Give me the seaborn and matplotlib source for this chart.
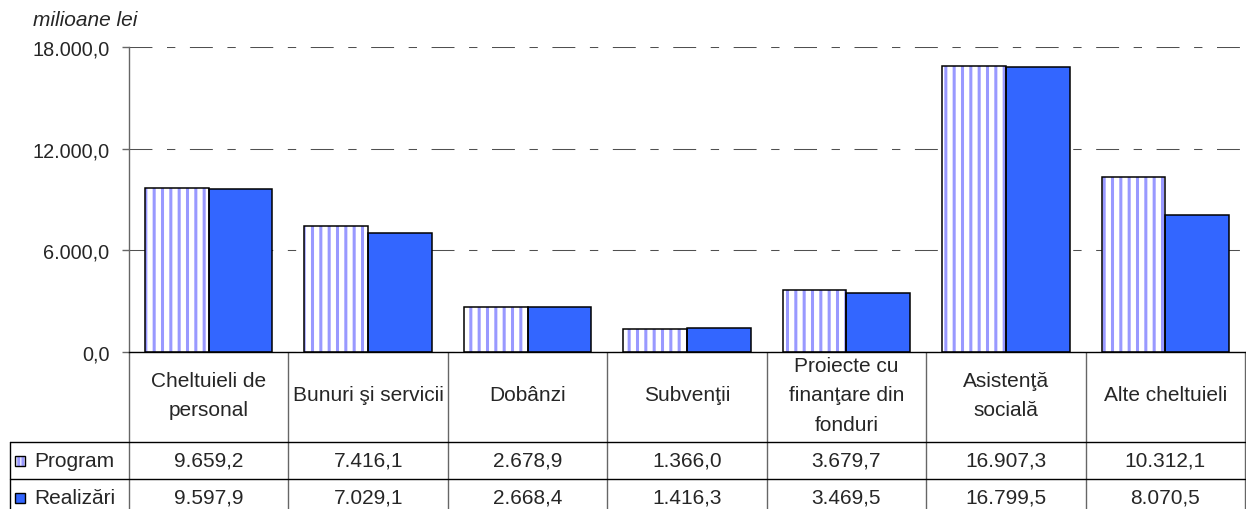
import numpy as np
import pandas as pd
import matplotlib.pyplot as plt
import matplotlib.transforms as mtransforms
from matplotlib.patches import Rectangle
import seaborn as sns

sns.set_style('white')
plt.rcParams['font.family'] = ['Liberation Sans', 'DejaVu Sans']
plt.rcParams['hatch.linewidth'] = 2.2

# data
categories = ['Cheltuieli de\npersonal', 'Bunuri şi servicii', 'Dobânzi', 'Subvenţii',
              'Proiecte cu\nfinanţare din\nfonduri', 'Asistenţă\nsocială', 'Alte cheltuieli']
series = ['Program', 'Realizări']
program = [9659.2, 7416.1, 2678.9, 1366.0, 3679.7, 16907.3, 10312.1]
realizari = [9597.9, 7029.1, 2668.4, 1416.3, 3469.5, 16799.5, 8070.5]
yticks = [0, 6000, 12000, 18000]
unit_label = 'milioane lei'

BLUE = '#3366FF'
LAVENDER = '#9999FF'
FS_TICK = 14.3
FS_TAB = 15


def fmt(v):
    """Romanian number format: 16.907,3"""
    s = f'{v:,.1f}'
    return s.replace(',', 'X').replace('.', ',').replace('X', '.')


df = pd.DataFrame({
    'cat': categories * 2,
    'serie': [series[0]] * len(categories) + [series[1]] * len(categories),
    'value': program + realizari,
})

W, H = 1246, 510
fig = plt.figure(figsize=(W / 100, H / 100), dpi=100)

# layout in pixels
ax_left, ax_right, ax_top, ax_bottom = 129, 1245, 48, 353
row_cat, row_prog, row_real = 443, 480, 517
leg_left = 10

ax = fig.add_axes([ax_left / W, 1 - ax_bottom / H, (ax_right - ax_left) / W, (ax_bottom - ax_top) / H])
sns.barplot(data=df, x='cat', y='value', hue='serie', palette=['white', BLUE],
            edgecolor='black', linewidth=1.1, width=0.8, saturation=1,
            legend=False, ax=ax)

# striped "Program" bars: hatch in lavender, black outline drawn on top
for p in ax.containers[0]:
    p.set_edgecolor(LAVENDER)
    p.set_hatch('||')
    p.set_linewidth(0)
    ax.add_patch(Rectangle((p.get_x(), p.get_y()), p.get_width(), p.get_height(),
                           fill=False, edgecolor='black', linewidth=1.1, zorder=p.get_zorder() + 0.1))

ax.set_xlim(-0.5, len(categories) - 0.5)
ax.set_ylim(0, 18000)
ax.set_yticks(yticks)
ax.set_yticklabels([fmt(v) for v in yticks])
ax.set_xticks([])
ax.set_xlabel('')
ax.set_ylabel('')
ax.tick_params(axis='y', left=True, length=5, width=1, color='#666666', pad=9, labelsize=FS_TICK)
ax.set_axisbelow(True)
ax.yaxis.grid(True, color='#505050', linestyle=(0, (22, 14, 8, 14)), linewidth=0.75)
for s in ['top', 'right']:
    ax.spines[s].set_visible(False)
ax.spines['left'].set_color('#666666')
ax.spines['bottom'].set_color('black')
ax.spines['left'].set_linewidth(1)
ax.spines['bottom'].set_linewidth(1)

fig.text(33 / W, 1 - 20 / H, unit_label, style='italic', fontsize=FS_TAB, va='center', ha='left')

# data table below the chart
over = fig.add_axes([0, 0, 1, 1], zorder=-1)
over.set_xlim(0, W)
over.set_ylim(H, 0)
over.axis('off')
trans = mtransforms.blended_transform_factory(ax.transData, over.transData)

for b in np.arange(-0.5, len(categories)):
    over.plot([b, b], [ax_bottom, H], color='#666666', lw=1, transform=trans)
over.plot([leg_left, leg_left], [row_cat, H], color='black', lw=1)
for y in [row_cat, row_prog]:
    over.plot([leg_left, ax_right], [y, y], color='black', lw=1)

for i, c in enumerate(categories):
    over.text(i, 396, c, transform=trans, ha='center', va='center',
              fontsize=FS_TAB, linespacing=1.72)

for vals, y0, y1 in [(program, row_cat, row_prog), (realizari, row_prog, row_real)]:
    for i, v in enumerate(vals):
        over.text(i, (y0 + y1) / 2, fmt(v), transform=trans, ha='center', va='center', fontsize=FS_TAB)

# legend keys in the first column
for name, y0, y1, key in [(series[0], row_cat, row_prog, 'prog'), (series[1], row_prog, row_real, 'real')]:
    yc = (y0 + y1) / 2
    if key == 'prog':
        over.add_patch(Rectangle((15, yc - 5), 10, 10, facecolor='white', edgecolor=LAVENDER,
                                 hatch='||||', linewidth=0))
        over.add_patch(Rectangle((15, yc - 5), 10, 10, fill=False, edgecolor='black', linewidth=1))
    else:
        over.add_patch(Rectangle((15, yc - 5), 10, 10, facecolor=BLUE, edgecolor='black', linewidth=1))
    over.text(34, yc, name, ha='left', va='center', fontsize=FS_TAB)

fig.savefig('out.png', dpi=100)
